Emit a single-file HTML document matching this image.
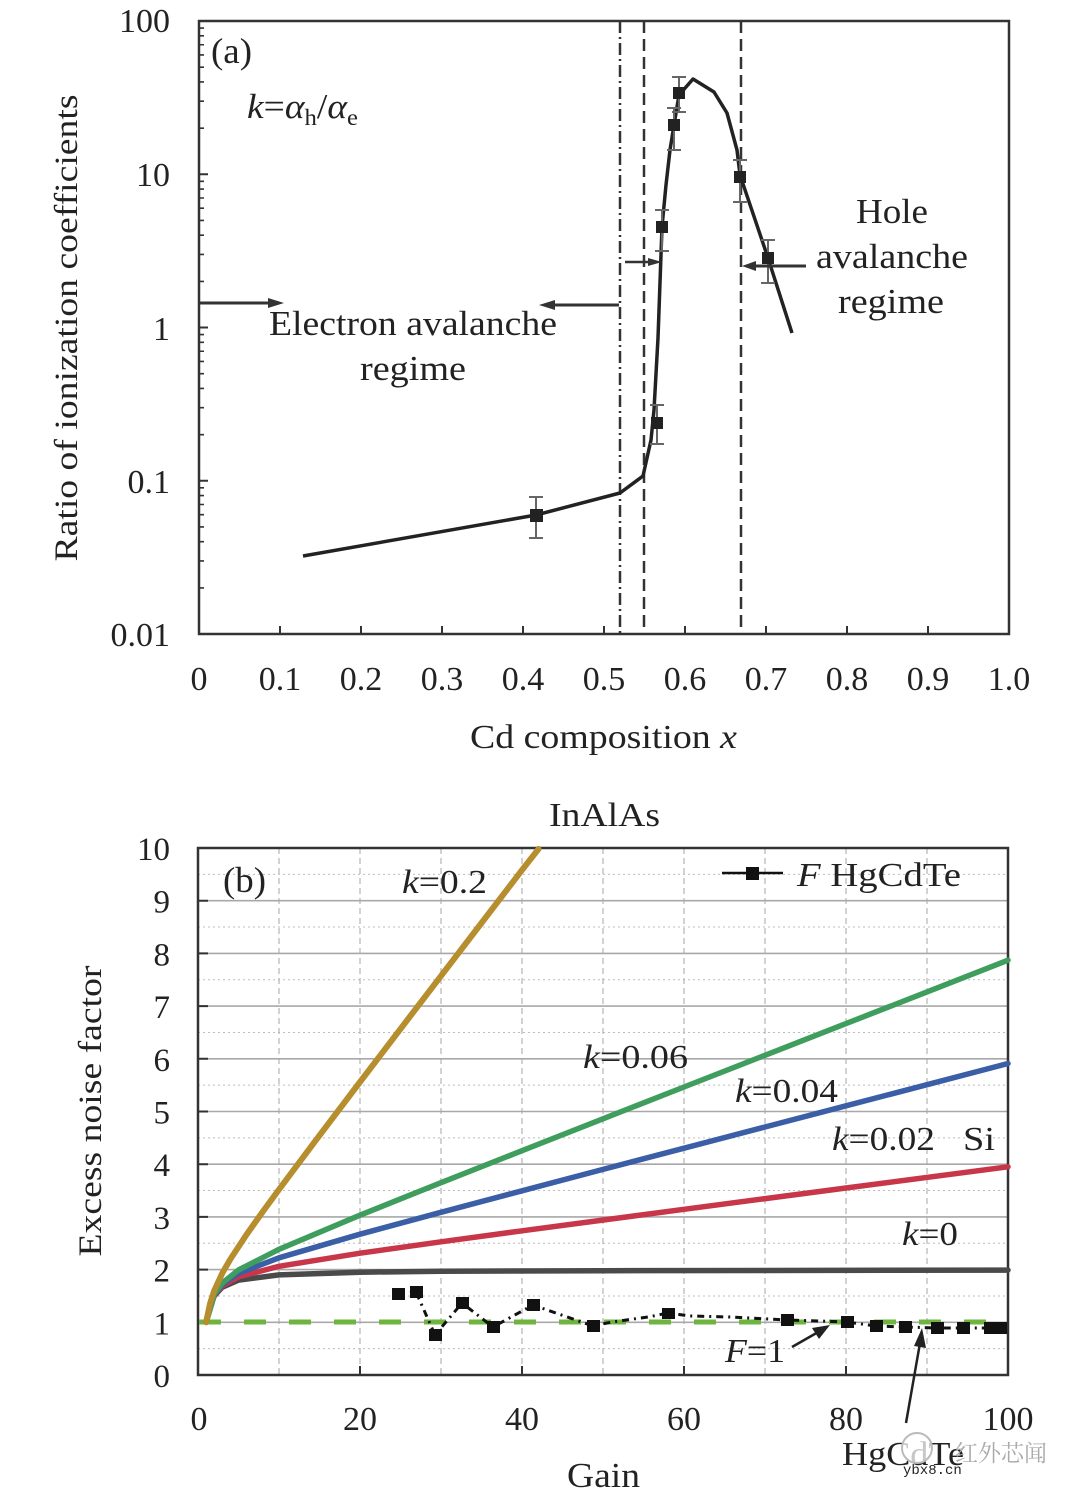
<!DOCTYPE html>
<html><head><meta charset="utf-8"><style>
html,body{margin:0;padding:0;background:#fff;}
svg{display:block;}
text{font-family:"Liberation Serif","Noto Serif CJK SC",serif;fill:#222;}
</style></head><body>
<svg width="1080" height="1499" viewBox="0 0 1080 1499" xmlns="http://www.w3.org/2000/svg">
<rect width="1080" height="1499" fill="#fff"/>

<!-- ================= Chart (a) ================= -->
<rect x="199" y="21" width="810" height="613" fill="none" stroke="#333" stroke-width="2.5"/>
<path d="M199,21h9M199,174.25h9M199,327.5h9M199,480.75h9" stroke="#333" stroke-width="2"/>
<path stroke="#333" stroke-width="1.6" d="
M199,587.9h5M199,560.9h5M199,541.7h5M199,526.9h5M199,514.7h5M199,504.5h5M199,495.6h5M199,487.8h5
M199,434.65h5M199,407.65h5M199,388.45h5M199,373.65h5M199,361.45h5M199,351.25h5M199,342.35h5M199,334.55h5
M199,281.4h5M199,254.4h5M199,235.2h5M199,220.4h5M199,208.2h5M199,198h5M199,189.1h5M199,181.3h5
M199,128.15h5M199,101.15h5M199,81.95h5M199,67.15h5M199,54.95h5M199,44.75h5M199,35.85h5M199,28.05h5"/>
<path stroke="#333" stroke-width="2" d="M280,634v-8M361,634v-8M442,634v-8M523,634v-8M604,634v-8M685,634v-8M766,634v-8M847,634v-8M928,634v-8"/>

<g font-size="34" text-anchor="end">
<text x="170" y="32">100</text>
<text x="170" y="186">10</text>
<text x="170" y="340">1</text>
<text x="170" y="493">0.1</text>
<text x="170" y="646">0.01</text>
</g>
<g font-size="34" text-anchor="middle">
<text x="199" y="690">0</text>
<text x="280" y="690">0.1</text>
<text x="361" y="690">0.2</text>
<text x="442" y="690">0.3</text>
<text x="523" y="690">0.4</text>
<text x="604" y="690">0.5</text>
<text x="685" y="690">0.6</text>
<text x="766" y="690">0.7</text>
<text x="847" y="690">0.8</text>
<text x="928" y="690">0.9</text>
<text x="1009" y="690">1.0</text>
</g>
<text x="470" y="748" font-size="34" textLength="267" lengthAdjust="spacingAndGlyphs">Cd composition <tspan font-style="italic">x</tspan></text>
<text transform="translate(77,328) rotate(-90)" font-size="33" text-anchor="middle" textLength="467" lengthAdjust="spacingAndGlyphs">Ratio of ionization coefficients</text>

<text x="211" y="63" font-size="36" textLength="41" lengthAdjust="spacingAndGlyphs">(a)</text>
<text x="247" y="118" font-size="35" textLength="111" lengthAdjust="spacingAndGlyphs"><tspan font-style="italic">k</tspan>=<tspan font-style="italic">α</tspan><tspan font-size="23" dy="7">h</tspan><tspan dy="-7">/</tspan><tspan font-style="italic">α</tspan><tspan font-size="23" dy="7">e</tspan></text>

<line x1="620" y1="21" x2="620" y2="634" stroke="#333" stroke-width="2.5" stroke-dasharray="12,4,2,4"/>
<line x1="644" y1="21" x2="644" y2="634" stroke="#333" stroke-width="2.5" stroke-dasharray="12,6"/>
<line x1="741" y1="21" x2="741" y2="634" stroke="#333" stroke-width="2.5" stroke-dasharray="12,6"/>

<polyline fill="none" stroke="#222" stroke-width="3.5" stroke-linejoin="round" points="303,556 536,515 620,493 643,476 647,458 651,440 654,410 658,338 662,227 666,185 670,150 674,125 679,95 693,79 714,92 727,113 737,150 740,175 768,258 792,333"/>

<g stroke="#666" stroke-width="2">
<path d="M536,497v41M529,497h14M529,538h14"/>
<path d="M657,405v39M650,405h14M650,444h14"/>
<path d="M662,210v41M655,210h14M655,251h14"/>
<path d="M674,108v42M667,108h14M667,150h14"/>
<path d="M679,77v35M672,77h14M672,112h14"/>
<path d="M740,160v42M733,160h14M733,202h14"/>
<path d="M768,240v43M761,240h14M761,283h14"/>
</g>
<g fill="#222">
<rect x="530" y="509" width="13" height="13"/>
<rect x="651" y="417" width="12" height="12"/>
<rect x="656" y="221" width="12" height="12"/>
<rect x="668" y="119" width="12" height="12"/>
<rect x="673" y="87" width="12" height="12"/>
<rect x="734" y="171" width="12" height="12"/>
<rect x="762" y="252" width="12" height="12"/>
</g>

<g stroke="#333" stroke-width="3" fill="#333">
<line x1="199" y1="303" x2="272" y2="303"/>
<path d="M284,303 L268,298 L268,308 Z" stroke="none"/>
<line x1="619" y1="305" x2="551" y2="305"/>
<path d="M539,305 L555,300 L555,310 Z" stroke="none"/>
<line x1="625" y1="262" x2="652" y2="262" stroke-width="2.5"/>
<path d="M662,262 L648,258 L648,266 Z" stroke="none"/>
<line x1="806" y1="266" x2="753" y2="266"/>
<path d="M742,266 L756,261 L756,271 Z" stroke="none"/>
</g>

<g font-size="35" text-anchor="middle">
<text x="413" y="335" textLength="288" lengthAdjust="spacingAndGlyphs">Electron avalanche</text>
<text x="413" y="380" textLength="106" lengthAdjust="spacingAndGlyphs">regime</text>
<text x="892" y="223" textLength="72" lengthAdjust="spacingAndGlyphs">Hole</text>
<text x="892" y="268" textLength="152" lengthAdjust="spacingAndGlyphs">avalanche</text>
<text x="891" y="313" textLength="106" lengthAdjust="spacingAndGlyphs">regime</text>
</g>

<!-- ================= Chart (b) ================= -->
<text x="549" y="826" font-size="34" textLength="111" lengthAdjust="spacingAndGlyphs">InAlAs</text>

<g stroke="#bdbdbd" stroke-width="1" stroke-dasharray="2,3">
<path d="M198,1348.65H1008M198,1295.95H1008M198,1243.25H1008M198,1190.55H1008M198,1137.85H1008M198,1085.15H1008M198,1032.45H1008M198,979.75H1008M198,927.05H1008M198,874.35H1008"/>
</g>
<g stroke="#b5b5b5" stroke-width="1.2" stroke-dasharray="6,4">
<path d="M279,848V1375M360,848V1375M441,848V1375M522,848V1375M603,848V1375M684,848V1375M765,848V1375M846,848V1375M927,848V1375"/>
</g>
<g stroke="#a8a8a8" stroke-width="1.6">
<path d="M198,1322.3H1008M198,1269.6H1008M198,1216.9H1008M198,1164.2H1008M198,1111.5H1008M198,1058.8H1008M198,1006.1H1008M198,953.4H1008M198,900.7H1008"/>
</g>

<rect x="198" y="848" width="810" height="527" fill="none" stroke="#333" stroke-width="2.5"/>
<path stroke="#333" stroke-width="2" d="M198,1322.3h10M198,1269.6h10M198,1216.9h10M198,1164.2h10M198,1111.5h10M198,1058.8h10M198,1006.1h10M198,953.4h10M198,900.7h10"/>
<path stroke="#333" stroke-width="2" d="M360,1375v-9M522,1375v-9M684,1375v-9M846,1375v-9"/>

<g font-size="33" text-anchor="end">
<text x="170" y="860">10</text>
<text x="170" y="912.7">9</text>
<text x="170" y="965.4">8</text>
<text x="170" y="1018.1">7</text>
<text x="170" y="1070.8">6</text>
<text x="170" y="1123.5">5</text>
<text x="170" y="1176.2">4</text>
<text x="170" y="1228.9">3</text>
<text x="170" y="1281.6">2</text>
<text x="170" y="1334.3">1</text>
<text x="170" y="1387">0</text>
</g>
<g font-size="34" text-anchor="middle">
<text x="199" y="1430">0</text>
<text x="360" y="1430">20</text>
<text x="522" y="1430">40</text>
<text x="684" y="1430">60</text>
<text x="846" y="1430">80</text>
<text x="1008" y="1430">100</text>
</g>
<text x="567" y="1487" font-size="35" textLength="73" lengthAdjust="spacingAndGlyphs">Gain</text>
<text transform="translate(101,1111) rotate(-90)" font-size="33" text-anchor="middle" textLength="291" lengthAdjust="spacingAndGlyphs">Excess noise factor</text>

<line x1="199" y1="1322" x2="1008" y2="1322" stroke="#6fb43f" stroke-width="5" stroke-dasharray="22,23"/>

<g fill="none" stroke-width="5.5" stroke-linejoin="round" stroke-linecap="round">
<polyline stroke="#4a4a4a" points="206.1,1322.3 210.2,1306 214.2,1296 222.3,1287.2 238.5,1280.1 279,1274.9 360,1272.2 441,1271.2 603,1270.7 1008,1270.1"/>
<polyline stroke="#c8364a" points="206.1,1322.3 214.2,1295.4 222.3,1285.8 238.5,1276.8 279,1266.3 360,1253.2 441,1241.8 522,1230.8 684,1209.3 846,1188 1008,1166.8"/>
<polyline stroke="#3b5fa6" points="206.1,1322.3 214.2,1294.9 222.3,1284.4 238.5,1273.4 279,1257.8 360,1234.2 441,1212.3 522,1190.8 603,1169.4 684,1148.2 765,1127 846,1105.8 927,1084.7 1008,1063.5"/>
<polyline stroke="#3f9e5d" points="206.1,1322.3 214.2,1294.4 222.3,1283 238.5,1270 279,1249.3 360,1215.2 441,1182.7 522,1150.7 603,1118.8 684,1087 765,1055.3 846,1023.6 927,991.9 1008,960.2"/>
<polyline stroke="#b68e2e" stroke-width="6" points="206.1,1322.3 210.2,1303 214.2,1290.7 222.3,1273.1 230.4,1259.1 246.6,1234.5 262.8,1211.6 279,1189.5 319.5,1135.4 360,1082 400.5,1028.9 441,975.9 481.5,923 522,870.1 538.5,849"/>
</g>

<polyline fill="none" stroke="#111" stroke-width="3" stroke-dasharray="7,5,2,5" points="398,1294 416,1292 435,1335 462,1303 493,1327 533,1305 593,1326 612,1322 648,1317 668,1313 690,1316 730,1317 787,1320 820,1321 847,1322 876,1326 905,1327 937,1328 963,1328 990,1328 1002,1328"/>
<g fill="#111">
<rect x="392" y="1288" width="13" height="12"/>
<rect x="410" y="1286" width="13" height="12"/>
<rect x="429" y="1329" width="13" height="12"/>
<rect x="456" y="1297" width="13" height="12"/>
<rect x="487" y="1321" width="13" height="12"/>
<rect x="527" y="1299" width="13" height="12"/>
<rect x="587" y="1320" width="13" height="12"/>
<rect x="662" y="1308" width="13" height="11"/>
<rect x="781" y="1314" width="13" height="12"/>
<rect x="841" y="1316" width="13" height="12"/>
<rect x="870" y="1320" width="13" height="12"/>
<rect x="899" y="1321" width="13" height="12"/>
<rect x="931" y="1322" width="13" height="12"/>
<rect x="957" y="1322" width="13" height="12"/>
<rect x="984" y="1322" width="13" height="12"/>
<rect x="996" y="1322" width="11" height="12"/>
</g>

<line x1="722" y1="873" x2="783" y2="873" stroke="#111" stroke-width="2.5"/>
<rect x="746" y="867" width="13" height="13" fill="#111"/>
<text x="797" y="886" font-size="34" textLength="164" lengthAdjust="spacingAndGlyphs"><tspan font-style="italic">F</tspan> HgCdTe</text>

<text x="223" y="892" font-size="36" textLength="43" lengthAdjust="spacingAndGlyphs">(b)</text>
<g font-size="34">
<text x="402" y="893" textLength="85" lengthAdjust="spacingAndGlyphs"><tspan font-style="italic">k</tspan>=0.2</text>
<text x="583" y="1068" textLength="105" lengthAdjust="spacingAndGlyphs"><tspan font-style="italic">k</tspan>=0.06</text>
<text x="735" y="1102" textLength="103" lengthAdjust="spacingAndGlyphs"><tspan font-style="italic">k</tspan>=0.04</text>
<text x="832" y="1150" textLength="103" lengthAdjust="spacingAndGlyphs"><tspan font-style="italic">k</tspan>=0.02</text>
<text x="963" y="1150" textLength="32" lengthAdjust="spacingAndGlyphs">Si</text>
<text x="902" y="1245" textLength="56" lengthAdjust="spacingAndGlyphs"><tspan font-style="italic">k</tspan>=0</text>
<text x="725" y="1362" textLength="60" lengthAdjust="spacingAndGlyphs"><tspan font-style="italic">F</tspan>=1</text>
<text x="842" y="1465" textLength="122" lengthAdjust="spacingAndGlyphs">HgCdTe</text>
</g>
<g stroke="#222" stroke-width="2.5" fill="#222">
<line x1="792" y1="1347" x2="820" y2="1331"/>
<path d="M830,1325 L812,1328 L819,1339 Z" stroke="none"/>
<line x1="906" y1="1423" x2="920" y2="1343"/>
<path d="M922,1328 L914,1346 L926,1348 Z" stroke="none"/>
</g>

<circle cx="917" cy="1448" r="15" fill="#fff" fill-opacity="0.75" stroke="#bbb" stroke-width="2"/>
<text x="955" y="1461" font-size="23" style="fill:#aaa" font-family="Noto Sans CJK SC, sans-serif">红外芯闻</text>
<text x="903" y="1474" font-size="14" style="fill:#222;font-family:'Liberation Mono',monospace">ybx8.cn</text>
</svg>
</body></html>
